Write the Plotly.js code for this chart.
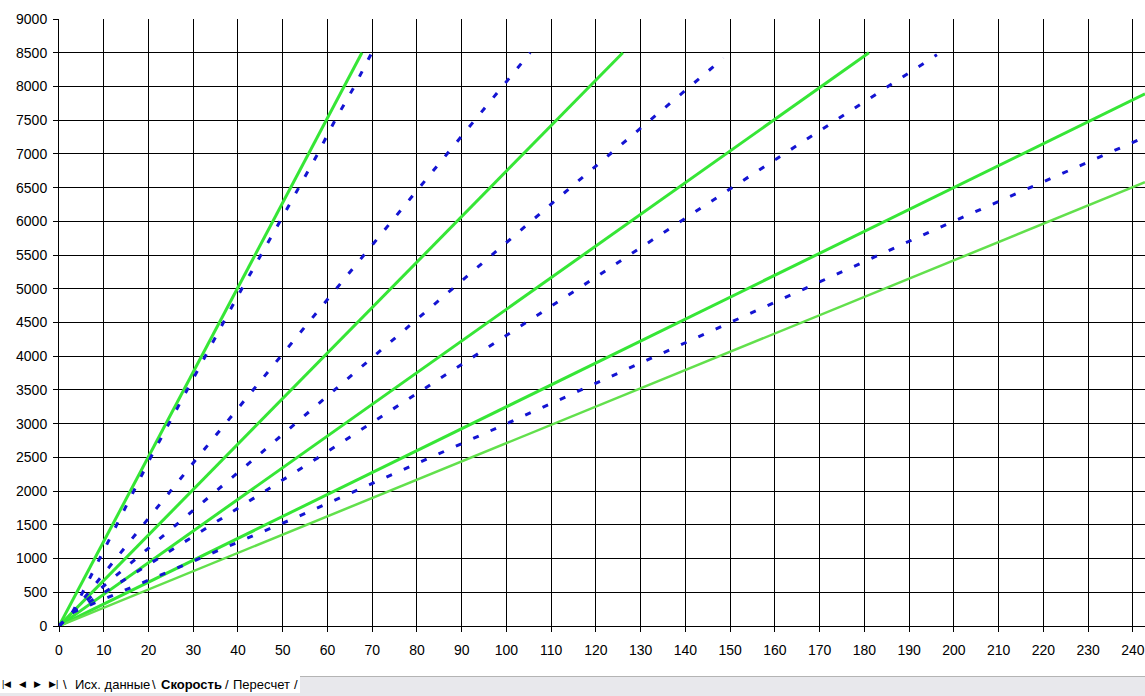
<!DOCTYPE html>
<html>
<head>
<meta charset="utf-8">
<script src="https://cdn.plot.ly/plotly-3.0.1.min.js"></script>
<style>
  body { margin: 0; background: #fff; }
  #chart { position: absolute; left: 0; top: 0; width: 1145px; height: 696px; }
  #tabs { position: absolute; left: 0; top: 676px; width: 1145px; height: 20px;
          background: #e8e8ec; border-top: 1px solid #b4b4b4;
          font-family: "Liberation Sans", Arial, sans-serif; font-size: 13px; color: #000; }
  #tabrow { position: absolute; left: 0; top: -1px; width: 300px; height: 17px; background: #fff; }
  .nav { position: absolute; top: 2px; font-size: 9px; color: #000; }
  .tab { position: absolute; top: 0px; white-space: nowrap; }
</style>
</head>
<body>
<div id="chart"></div>
<div id="tabs">
  <div id="tabrow"></div>
  <span class="nav" style="left:2px">|◀</span>
  <span class="nav" style="left:19px">◀</span>
  <span class="nav" style="left:34px">▶</span>
  <span class="nav" style="left:49px">▶|</span>
  <span class="tab" style="left:63px">\</span>
  <span class="tab" style="left:75px">Исх. данные</span>
  <span class="tab" style="left:152px">\</span>
  <span class="tab" style="left:161px;font-weight:bold">Скорость</span>
  <span class="tab" style="left:225px">/</span>
  <span class="tab" style="left:233px">Пересчет</span>
  <span class="tab" style="left:294px">/</span>
</div>
<script>
//Calculated (green) lines: speed vs rpm per gear, read at their ends
var greenX = [
    [0, 67.7],
    [0, 126],
    [0, 181],
    [0, 242.7],
    [0, 242.7]
];
var greenY = [
    [0, 8500],
    [0, 8500],
    [0, 8500],
    [0, 7890],
    [0, 6580]
];

//Measured (blue dashed) lines
var blueX = [
    [0, 3, 20.5, 40, 49.4, 57.8, 61.7, 66, 69.9],
    [0, 3, 31, 62, 80.7, 105.3],
    [0, 3, 44, 88, 115, 148.5],
    [0, 3, 58, 116, 149.5, 196.2],
    [0, 3, 52.3, 100, 150, 197.5, 242.7]
];
var blueY = [
    [0, 200, 2500, 4900, 6000, 7000, 7500, 8000, 8500],
    [0, 200, 2500, 5000, 6500, 8500],
    [0, 200, 2500, 5000, 6540, 8420],
    [0, 200, 2500, 5000, 6460, 8470],
    [0, 200, 1590, 3000, 4500, 5930, 7250]
];

var data = [];
//Green lines go under the blue ones
for (var i = 0; i < greenX.length; i++) {
    var last = (i == greenX.length - 1);
    data.push({
        x: greenX[i], y: greenY[i], type: 'scatter', mode: 'lines',
        line: {color: last ? '#62e04c' : '#36e636', width: last ? 2.5 : 3},
        hoverinfo: 'skip', showlegend: false
    });
}
for (var j = 0; j < blueX.length; j++) {
    data.push({
        x: blueX[j], y: blueY[j], type: 'scatter', mode: 'lines',
        line: {color: '#1414d2', width: 3, dash: '6px,13px'},
        hoverinfo: 'skip', showlegend: false
    });
}

var tickFont = {family: 'Liberation Sans, Arial, sans-serif', size: 14, color: '#000'};
var layout = {
    width: 1145, height: 696,
    margin: {l: 59, r: 0, t: 19, b: 70},
    paper_bgcolor: '#fff', plot_bgcolor: '#fff',
    showlegend: false,
    xaxis: {
        range: [0, 242.7], dtick: 10, tick0: 0,
        showgrid: true, gridcolor: '#000', gridwidth: 1,
        zeroline: false, showline: true, linecolor: '#000', linewidth: 1,
        ticks: 'outside', ticklen: 5, tickcolor: '#000',
        tickfont: tickFont, ticklabelstandoff: 6
    },
    yaxis: {
        range: [0, 9000], dtick: 500, tick0: 0,
        showgrid: true, gridcolor: '#000', gridwidth: 1,
        zeroline: false, showline: true, linecolor: '#000', linewidth: 1,
        ticks: 'outside', ticklen: 5, tickcolor: '#000',
        tickfont: tickFont, ticklabelstandoff: 3
    }
};

Plotly.newPlot('chart', data, layout, {staticPlot: true});
</script>
</body>
</html>
